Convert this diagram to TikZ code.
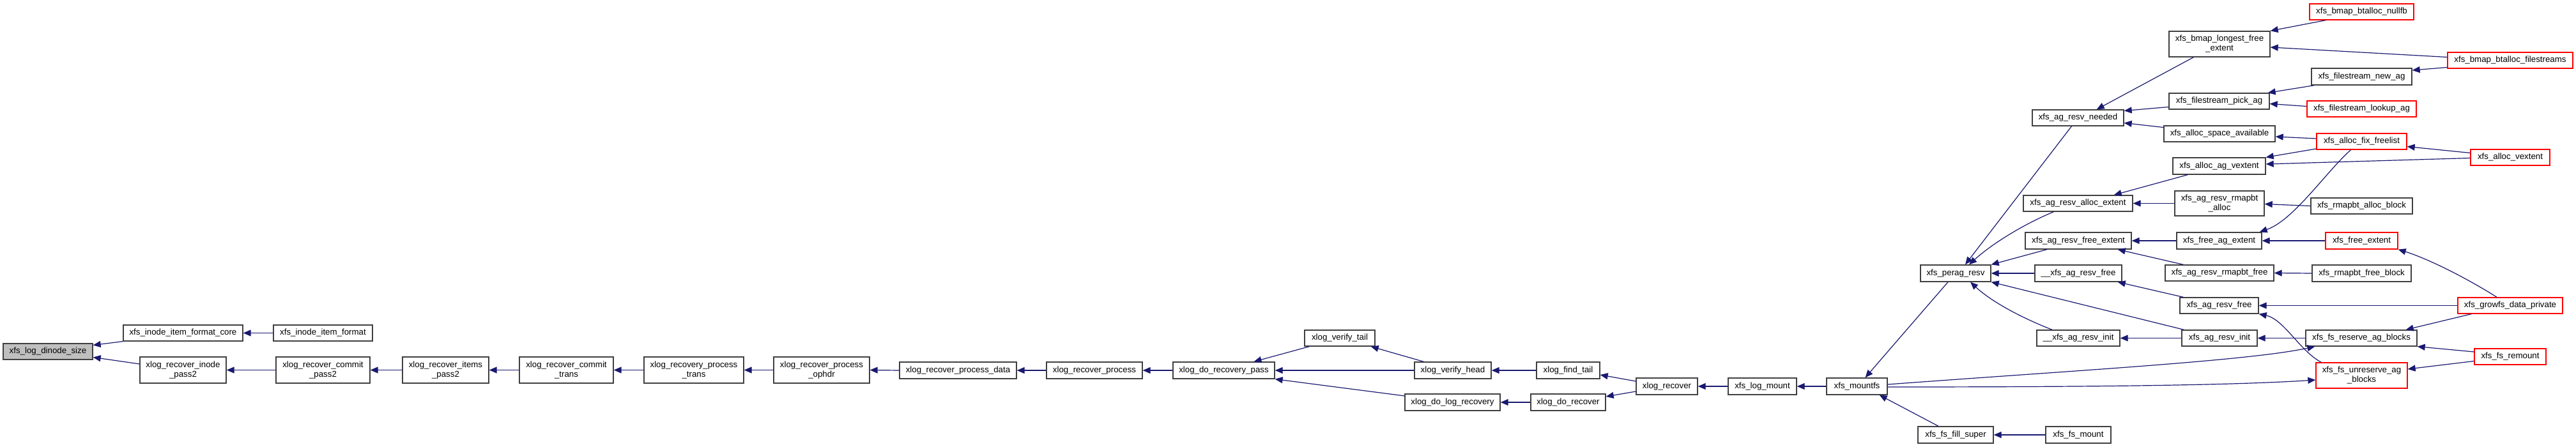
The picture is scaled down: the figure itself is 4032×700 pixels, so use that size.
\documentclass[tikz,border=0pt]{standalone}
\usepackage{fontspec}
\setmainfont{Liberation Sans}
\usetikzlibrary{arrows.meta}
\definecolor{edgeblue}{HTML}{191970}
\definecolor{boxgray}{HTML}{BFBFBF}
\definecolor{boxred}{HTML}{FF0000}
\newcommand\bx[7][]{\node[box,#1,minimum width={(#5-#3)*1pt},minimum height={(#6-#4)*1pt}] (#2) at ({(#3+#5)/2},{(#4+#6)/2}) {#7};}
\begin{document}
\begin{tikzpicture}[x=1pt,y=-1pt,
 box/.style={draw=black!75,line width=1.3pt,rectangle,inner sep=0pt,align=center,font=\fontsize{13.3}{15}\selectfont,fill=white},
 redbox/.style={draw=boxred},
 root/.style={fill=boxgray},
 conn/.style={draw=edgeblue,line width=1.2pt,-{Triangle[length=12pt,width=10pt]}}]
\useasboundingbox (0,0) rectangle (4032,700);
% nodes
\bx[root]{dinode}{5}{538}{145}{563}{xfs\_log\_dinode\_size}
\bx{core}{193}{509}{380}{534}{xfs\_inode\_item\_format\_core}
\bx{fmt}{428}{509}{583}{534}{xfs\_inode\_item\_format}
\bx{ipass2}{219}{559}{354}{600}{xlog\_recover\_inode\\\_pass2}
\bx{cpass2}{432}{559}{579}{600}{xlog\_recover\_commit\\\_pass2}
\bx{itpass2}{630}{559}{765}{600}{xlog\_recover\_items\\\_pass2}
\bx{ctrans}{813}{559}{960}{600}{xlog\_recover\_commit\\\_trans}
\bx{ptrans}{1008}{559}{1164}{600}{xlog\_recovery\_process\\\_trans}
\bx{ophdr}{1211}{559}{1361}{600}{xlog\_recover\_process\\\_ophdr}
\bx{pdata}{1408}{567}{1591}{593}{xlog\_recover\_process\_data}
\bx{proc}{1638}{567}{1788}{593}{xlog\_recover\_process}
\bx{drp}{1836}{567}{1995}{593}{xlog\_do\_recovery\_pass}
\bx{vtail}{2042}{517}{2152}{542}{xlog\_verify\_tail}
\bx{vhead}{2214}{567}{2334}{593}{xlog\_verify\_head}
\bx{dlr}{2199}{617}{2348}{643}{xlog\_do\_log\_recovery}
\bx{ftail}{2405}{567}{2504}{593}{xlog\_find\_tail}
\bx{drec}{2396}{617}{2513}{643}{xlog\_do\_recover}
\bx{xrec}{2561}{592}{2657}{618}{xlog\_recover}
\bx{lmount}{2705}{592}{2812}{618}{xfs\_log\_mount}
\bx{mountfs}{2859}{592}{2954}{618}{xfs\_mountfs}
\bx{perag}{3006}{415}{3116}{441}{xfs\_perag\_resv}
\bx{fill}{3002}{668}{3120}{694}{xfs\_fs\_fill\_super}
\bx{fsmount}{3202}{668}{3304}{694}{xfs\_fs\_mount}
\bx{needed}{3181}{172}{3324}{197}{xfs\_ag\_resv\_needed}
\bx{aext}{3167}{306}{3338}{331}{xfs\_ag\_resv\_alloc\_extent}
\bx{fext}{3170}{364}{3336}{390}{xfs\_ag\_resv\_free\_extent}
\bx{ufree}{3185}{415}{3321}{441}{\_\_xfs\_ag\_resv\_free}
\bx{uinit}{3188}{517}{3318}{542}{\_\_xfs\_ag\_resv\_init}
\bx{longest}{3395}{49}{3553}{89}{xfs\_bmap\_longest\_free\\\_extent}
\bx{pick}{3395}{146}{3552}{171}{xfs\_filestream\_pick\_ag}
\bx{space}{3387}{197}{3561}{222}{xfs\_alloc\_space\_available}
\bx{agv}{3401}{247}{3546}{273}{xfs\_alloc\_ag\_vextent}
\bx{ralloc}{3404}{299}{3544}{338}{xfs\_ag\_resv\_rmapbt\\\_alloc}
\bx{fage}{3407}{364}{3540}{390}{xfs\_free\_ag\_extent}
\bx{rfree}{3389}{415}{3559}{440}{xfs\_ag\_resv\_rmapbt\_free}
\bx{arf}{3412}{466}{3535}{491}{xfs\_ag\_resv\_free}
\bx{ainit}{3415}{517}{3533}{542}{xfs\_ag\_resv\_init}
\bx[redbox]{nullfb}{3615}{6}{3778}{31}{xfs\_bmap\_btalloc\_nullfb}
\bx{newag}{3618}{107}{3775}{133}{xfs\_filestream\_new\_ag}
\bx[redbox]{lookup}{3611}{158}{3782}{183}{xfs\_filestream\_lookup\_ag}
\bx[redbox]{fix}{3626}{209}{3767}{234}{xfs\_alloc\_fix\_freelist}
\bx{rab}{3617}{310}{3776}{335}{xfs\_rmapbt\_alloc\_block}
\bx[redbox]{fe}{3640}{364}{3753}{390}{xfs\_free\_extent}
\bx{rfb}{3619}{415}{3774}{441}{xfs\_rmapbt\_free\_block}
\bx{fsres}{3609}{517}{3783}{542}{xfs\_fs\_reserve\_ag\_blocks}
\bx[redbox]{unres}{3625}{568}{3768}{608}{xfs\_fs\_unreserve\_ag\\\_blocks}
\bx[redbox]{fs}{3831}{82}{4027}{107}{xfs\_bmap\_btalloc\_filestreams}
\bx[redbox]{av}{3867}{234}{3991}{259}{xfs\_alloc\_vextent}
\bx[redbox]{growfs}{3847}{466}{4011}{491}{xfs\_growfs\_data\_private}
\bx[redbox]{remount}{3873}{546}{3985}{571}{xfs\_fs\_remount}
% connectors
\draw[conn] (core.south west) -- ([yshift=10pt]dinode.east);
\draw[conn] ([yshift=9.5pt]ipass2.west) -- ([yshift=-9pt]dinode.east);
\draw[conn] (fmt.west) -- (core.east);
\draw[conn] (cpass2.west) -- (ipass2.east);
\draw[conn] (itpass2.west) -- (cpass2.east);
\draw[conn] (ctrans.west) -- (itpass2.east);
\draw[conn] (ptrans.west) -- (ctrans.east);
\draw[conn] (ophdr.west) -- (ptrans.east);
\draw[conn] (pdata.west) -- (ophdr.east);
\draw[conn] (proc.west) -- (pdata.east);
\draw[conn] (drp.west) -- (proc.east);
\draw[conn] ([xshift=8pt]vtail.south west) -- ([xshift=47pt]drp.north);
\draw[conn] (vhead.west) -- (drp.east);
\draw[conn] ([yshift=10pt]dlr.west) -- (drp.south east);
\draw[conn] ([xshift=15pt]vhead.north west) -- ([xshift=-7pt]vtail.south east);
\draw[conn] (ftail.west) -- (vhead.east);
\draw[conn] (drec.west) -- (dlr.east);
\draw[conn] ([yshift=8pt]xrec.west) -- ([yshift=-7pt]ftail.east);
\draw[conn] ([yshift=-8pt]xrec.west) -- ([yshift=9pt]drec.east);
\draw[conn] (lmount.west) -- (xrec.east);
\draw[conn] (mountfs.west) -- (lmount.east);
\draw[conn] ([xshift=-12pt]perag.south) -- ([xshift=13pt]mountfs.north);
\draw[conn] ([xshift=-27pt]fill.north) -- ([xshift=-13pt]mountfs.south east);
\draw[conn] (fsmount.west) -- (fill.east);
\draw[conn] ([yshift=3pt]mountfs.east) .. controls (3250,580) and (3520,565) .. ([xshift=15pt]fsres.south west);
\draw[conn] ([yshift=-1pt]mountfs.east) .. controls (3300,606) and (3500,603) .. ([yshift=-7pt]unres.west);
\draw[conn] ([xshift=-10pt]needed.south) -- ([xshift=15pt]perag.north);
\draw[conn] ([xshift=-38pt]aext.south) .. controls (3170,350) and (3120,380) .. ([xshift=21pt]perag.north);
\draw[conn] ([xshift=-49pt]fext.south) -- (perag.north east);
\draw[conn] (ufree.west) -- (perag.east);
\draw[conn] ([xshift=-41pt]uinit.north) .. controls (3170,500) and (3120,475) .. ([xshift=23pt]perag.south);
\draw[conn] ([xshift=4pt]ainit.north west) -- (perag.south east);
\draw[conn] ([xshift=6pt]arf.north west) -- ([xshift=-7pt]ufree.south east);
\draw[conn] (ainit.west) -- (uinit.east);
\draw[conn] (fage.west) -- (fext.east);
\draw[conn] ([xshift=29pt]rfree.north west) -- ([xshift=-22pt]fext.south east);
\draw[conn] (ralloc.west) -- (aext.east);
\draw[conn] ([xshift=24pt]agv.south west) -- ([xshift=-30pt]aext.north east);
\draw[conn] ([xshift=39pt]longest.south west) -- ([xshift=-43pt]needed.north east);
\draw[conn] ([yshift=-9pt]pick.west) -- ([yshift=11pt]needed.east);
\draw[conn] ([yshift=10pt]space.west) -- ([yshift=-8pt]needed.east);
\draw[conn] ([xshift=26pt]nullfb.south west) -- (longest.north east);
\draw[conn] ([yshift=5pt]fs.west) -- ([yshift=-5pt]longest.east);
\draw[conn] ([yshift=-11pt]fs.west) -- ([yshift=10pt]newag.east);
\draw[conn] ([xshift=5pt]newag.south west) -- ([xshift=-3pt]pick.north east);
\draw[conn] ([yshift=4pt]lookup.west) -- ([yshift=-4pt]pick.east);
\draw[conn] ([yshift=4.5pt]fix.west) -- ([yshift=-4.5pt]space.east);
\draw[conn] ([yshift=-11.5pt]fix.west) -- (agv.north east);
\draw[conn] ([yshift=-1pt]av.west) -- ([yshift=3pt]agv.east);
\draw[conn] ([yshift=7pt]av.west) -- ([yshift=-8pt]fix.east);
\draw[conn] ([xshift=-17pt]fix.south) .. controls (3640,270) and (3590,345) .. ([xshift=-4pt]fage.north east);
\draw[conn] (fe.west) -- (fage.east);
\draw[conn] ([xshift=-21pt]growfs.north) .. controls (3860,435) and (3800,405) .. (fe.south east);
\draw[conn] (rab.west) -- ([yshift=-1pt]ralloc.east);
\draw[conn] (rfb.west) -- (rfree.east);
\draw[conn] (growfs.west) -- (arf.east);
\draw[conn] ([xshift=9pt]unres.north west) .. controls (3600,550) and (3575,500) .. (arf.south east);
\draw[conn] (fsres.west) -- (ainit.east);
\draw[conn] ([xshift=22pt]growfs.south west) -- ([xshift=-18pt]fsres.north east);
\draw[conn] ([yshift=7.5pt]remount.west) -- (fsres.south east);
\draw[conn] ([yshift=-7pt]remount.west) -- ([yshift=10pt]unres.east);
\end{tikzpicture}
\end{document}
